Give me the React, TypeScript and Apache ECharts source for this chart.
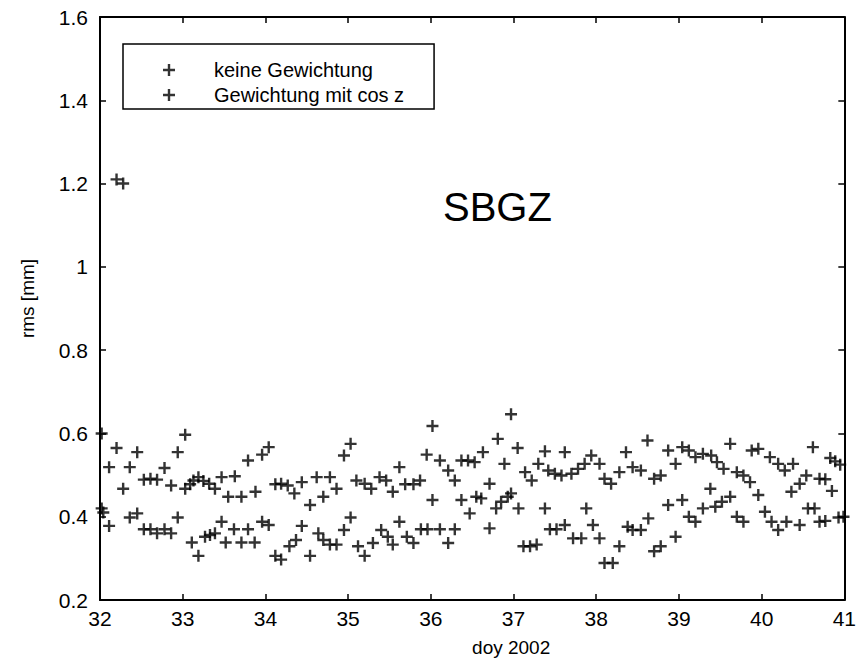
import React, { useEffect, useRef } from "react";
import * as echarts from "echarts";

// ---- data ----
const keineDays = [
  32.02, 32.11, 32.20, 32.28, 32.36, 32.45, 32.53, 32.61, 32.69, 32.78, 32.86, 32.94,
  33.03, 33.09, 33.13, 33.19, 33.25, 33.32, 33.39, 33.47, 33.55, 33.63, 33.71, 33.79, 33.88, 33.96,
  34.04, 34.12, 34.19, 34.27, 34.35, 34.44, 34.54, 34.62, 34.70, 34.78, 34.86, 34.95,
  35.03, 35.10, 35.20, 35.28, 35.38, 35.46, 35.54, 35.62, 35.69, 35.79, 35.87, 35.95,
  36.02, 36.11, 36.21, 36.29, 36.37, 36.45, 36.53, 36.63, 36.71, 36.81, 36.89, 36.97,
  37.05, 37.14, 37.22, 37.30, 37.38, 37.42, 37.50, 37.58, 37.62, 37.70, 37.78, 37.86, 37.94,
  38.04, 38.10, 38.18, 38.28, 38.36, 38.44, 38.54, 38.62, 38.70, 38.78, 38.87, 38.96,
  39.04, 39.12, 39.20, 39.29, 39.39, 39.46, 39.54, 39.62, 39.70, 39.78, 39.86, 39.88, 39.96,
  40.10, 40.20, 40.28, 40.38, 40.46, 40.54, 40.62, 40.70, 40.77, 40.83, 40.89, 40.95,
];
const keineRms = [
  0.600, 0.519, 1.210, 1.200, 0.519, 0.555, 0.489, 0.491, 0.489, 0.517, 0.475, 0.555,
  0.597, 0.478, 0.487, 0.495, 0.486, 0.479, 0.467, 0.495, 0.448, 0.497, 0.448, 0.535, 0.460, 0.549,
  0.567, 0.478, 0.479, 0.475, 0.456, 0.483, 0.428, 0.495, 0.448, 0.495, 0.467, 0.547,
  0.575, 0.487, 0.479, 0.467, 0.495, 0.487, 0.460, 0.519, 0.478, 0.478, 0.487, 0.549,
  0.618, 0.535, 0.511, 0.487, 0.535, 0.535, 0.531, 0.555, 0.479, 0.587, 0.527, 0.646,
  0.565, 0.507, 0.487, 0.527, 0.557, 0.511, 0.503, 0.499, 0.555, 0.503, 0.515, 0.527, 0.547,
  0.527, 0.491, 0.479, 0.507, 0.555, 0.519, 0.511, 0.583, 0.491, 0.499, 0.559, 0.527,
  0.567, 0.559, 0.543, 0.551, 0.547, 0.531, 0.515, 0.575, 0.507, 0.499, 0.483, 0.559, 0.563,
  0.543, 0.527, 0.511, 0.527, 0.479, 0.499, 0.567, 0.491, 0.490, 0.541, 0.533, 0.525,
];
const cosDays = [
  32.02, 32.04, 32.11, 32.20, 32.28, 32.36, 32.45, 32.53, 32.61, 32.69, 32.78, 32.86, 32.94,
  33.03, 33.11, 33.19, 33.27, 33.33, 33.39, 33.47, 33.52, 33.62, 33.71, 33.79, 33.87, 33.96,
  34.04, 34.12, 34.19, 34.29, 34.37, 34.44, 34.54, 34.64, 34.70, 34.78, 34.86, 34.95,
  35.03, 35.12, 35.20, 35.30, 35.40, 35.48, 35.54, 35.62, 35.71, 35.79, 35.88, 35.96,
  36.02, 36.11, 36.21, 36.29, 36.37, 36.47, 36.55, 36.61, 36.71, 36.79, 36.85, 36.93, 36.97,
  37.06, 37.12, 37.20, 37.28, 37.38, 37.44, 37.52, 37.62, 37.72, 37.82, 37.88, 37.96,
  38.04, 38.10, 38.20, 38.28, 38.38, 38.44, 38.54, 38.63, 38.70, 38.78, 38.87, 38.96,
  39.04, 39.12, 39.20, 39.29, 39.38, 39.44, 39.52, 39.62, 39.70, 39.78, 39.96,
  40.04, 40.12, 40.20, 40.30, 40.36, 40.46, 40.56, 40.64, 40.70, 40.77, 40.85, 40.93, 40.99,
];
const cosRms = [
  0.420, 0.410, 0.378, 0.565, 0.467, 0.398, 0.408, 0.370, 0.370, 0.360, 0.370, 0.360, 0.398,
  0.467, 0.338, 0.306, 0.352, 0.356, 0.360, 0.388, 0.338, 0.370, 0.338, 0.370, 0.338, 0.388,
  0.380, 0.306, 0.297, 0.329, 0.344, 0.378, 0.306, 0.360, 0.344, 0.333, 0.333, 0.368,
  0.398, 0.329, 0.306, 0.337, 0.368, 0.352, 0.333, 0.388, 0.352, 0.337, 0.370, 0.370,
  0.440, 0.370, 0.337, 0.370, 0.440, 0.408, 0.448, 0.444, 0.372, 0.420, 0.436, 0.448, 0.456,
  0.420, 0.329, 0.329, 0.333, 0.420, 0.370, 0.370, 0.380, 0.348, 0.348, 0.420, 0.380,
  0.348, 0.289, 0.289, 0.329, 0.376, 0.368, 0.368, 0.396, 0.317, 0.329, 0.428, 0.352,
  0.440, 0.400, 0.388, 0.420, 0.467, 0.424, 0.436, 0.448, 0.400, 0.388, 0.452,
  0.412, 0.388, 0.368, 0.388, 0.460, 0.380, 0.420, 0.420, 0.388, 0.390, 0.462, 0.398, 0.400,
];
const seriesNames = ["keine Gewichtung", "Gewichtung mit cos z"];
const stationName = "SBGZ";
const xAxisName = "doy 2002";
const yAxisName = "rms [mm]";

const FONT = "'Liberation Sans', Arial, Helvetica, sans-serif";
const PLUS = "path://M4.8,0H7.2V4.8H12V7.2H7.2V12H4.8V7.2H0V4.8H4.8Z";

export default function App() {
  const ref = useRef<HTMLDivElement>(null);
  useEffect(() => {
    if (!ref.current) return;
    const chart = echarts.init(ref.current, null, { renderer: "svg" });
    const axisCommon = {
      type: "value" as const,
      axisLine: { show: true, lineStyle: { color: "#000", width: 2 } },
      axisTick: { show: true, inside: true, length: 6, lineStyle: { color: "#000", width: 1.5 } },
      splitLine: { show: false },
    };
    const option = {
      animation: false,
      backgroundColor: "#fff",
      title: {
        text: stationName,
        left: 443,
        top: 187,
        padding: 0,
        textStyle: { fontSize: 40, fontWeight: "normal", color: "#000", fontFamily: FONT },
      },
      legend: {
        orient: "vertical",
        left: 123,
        top: 44,
        backgroundColor: "#fff",
        borderColor: "#000",
        borderWidth: 1.5,
        borderRadius: 0,
        padding: [16, 30, 4, 40],
        itemWidth: 12,
        itemHeight: 12,
        itemGap: 5,
        icon: PLUS,
        textStyle: { fontSize: 20, color: "#000", fontFamily: FONT, padding: [0, 0, 0, 34] },
        data: seriesNames,
      },
      grid: { left: 100, right: 11, top: 17, bottom: 58 },
      xAxis: [
        {
          ...axisCommon,
          min: 32,
          max: 41,
          interval: 1,
          position: "bottom",
          axisLabel: { color: "#000", fontSize: 21, fontFamily: FONT, margin: 8 },
          name: xAxisName,
          nameLocation: "middle",
          nameGap: 38,
          nameTextStyle: { color: "#000", fontSize: 19, fontFamily: FONT, padding: [0, 0, 0, 78] },
        },
        {
          ...axisCommon,
          min: 32,
          max: 41,
          interval: 1,
          position: "top",
          axisLabel: { show: false },
        },
      ],
      yAxis: [
        {
          ...axisCommon,
          min: 0.2,
          max: 1.6,
          interval: 0.2,
          position: "left",
          axisLabel: {
            color: "#000",
            fontSize: 21,
            fontFamily: FONT,
            margin: 12,
            formatter: (v: number) => String(Math.round(v * 10) / 10),
          },
          name: yAxisName,
          nameLocation: "middle",
          nameGap: 63,
          nameTextStyle: { color: "#000", fontSize: 19, fontFamily: FONT, padding: [0, 0, 0, 20] },
        },
        {
          ...axisCommon,
          min: 0.2,
          max: 1.6,
          interval: 0.2,
          position: "right",
          axisLabel: { show: false },
        },
      ],
      series: [
        {
          name: seriesNames[0],
          type: "scatter",
          symbol: PLUS,
          symbolSize: 12,
          itemStyle: { color: "#000" },
          data: keineDays.map((d, i) => [d, keineRms[i]]),
        },
        {
          name: seriesNames[1],
          type: "scatter",
          symbol: PLUS,
          symbolSize: 12,
          itemStyle: { color: "#000" },
          data: cosDays.map((d, i) => [d, cosRms[i]]),
        },
      ],
    };
    chart.setOption(option as any);
    return () => chart.dispose();
  }, []);
  return (
    <div
      ref={ref}
      style={{ position: "fixed", left: 0, top: 0, width: 859, height: 662, background: "#fff" }}
    />
  );
}
